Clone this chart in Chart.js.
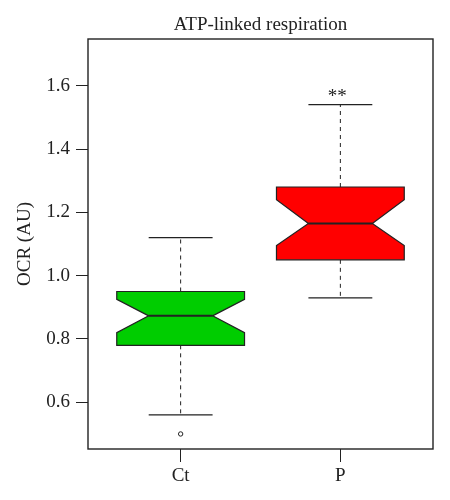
<!DOCTYPE html>
<html>
<head>
<meta charset="utf-8">
<title>ATP-linked respiration</title>
<script src="https://cdn.jsdelivr.net/npm/chart.js@4"></script>
<style>
  html, body { margin: 0; padding: 0; background: #fff; }
</style>
</head>
<body>
<canvas id="boxChart" width="450" height="500"></canvas>
<script>
// Box plot data
const groups = ['Ct', 'P'];
const whiskerLow = [0.56, 0.93];
const q1 = [0.78, 1.05];
const notchLow = [0.82, 1.095];
const median = [0.873, 1.165];
const notchHigh = [0.925, 1.24];
const q3 = [0.95, 1.28];
const whiskerHigh = [1.12, 1.54];
const outliers = [[0.50], []];
const significance = ['', '**'];
const yTicks = [0.6, 0.8, 1.0, 1.2, 1.4, 1.6];

// Styles
const boxColors = ['#00CD00', '#FF0000'];
const ink = '#222222';
const serif = 'Liberation Serif, Times New Roman, serif';
const fontSize = 19;

const outlierPoints = [];
outliers.forEach(function(list, i) {
    list.forEach(function(v) { outlierPoints.push({ x: i + 1, y: v }); });
});

/**
 * Draws notched boxes, whiskers, the frame and significance marks
 */
const boxPlotPlugin = {
    id: 'boxPlot',
    beforeDatasetsDraw: function(chart) {
        const ctx = chart.ctx;
        const xs = chart.scales.x;
        const ys = chart.scales.y;
        ctx.save();
        groups.forEach(function(g, i) {
            const cx = xs.getPixelForValue(i + 1);
            const hw = xs.getPixelForValue(i + 1.4) - cx;
            const nw = hw / 2;
            const L = cx - hw, R = cx + hw;
            const yQ1 = ys.getPixelForValue(q1[i]);
            const yQ3 = ys.getPixelForValue(q3[i]);
            const yMed = ys.getPixelForValue(median[i]);
            const yNL = ys.getPixelForValue(notchLow[i]);
            const yNH = ys.getPixelForValue(notchHigh[i]);
            const yWL = ys.getPixelForValue(whiskerLow[i]);
            const yWH = ys.getPixelForValue(whiskerHigh[i]);

            // whiskers (dashed)
            ctx.strokeStyle = ink;
            ctx.lineWidth = 1;
            ctx.setLineDash([4, 4]);
            ctx.beginPath();
            ctx.moveTo(cx, yQ3); ctx.lineTo(cx, yWH);
            ctx.moveTo(cx, yQ1); ctx.lineTo(cx, yWL);
            ctx.stroke();
            ctx.setLineDash([]);

            // staples
            ctx.lineWidth = 1.2;
            ctx.beginPath();
            ctx.moveTo(cx - nw, yWH); ctx.lineTo(cx + nw, yWH);
            ctx.moveTo(cx - nw, yWL); ctx.lineTo(cx + nw, yWL);
            ctx.stroke();

            // notched box
            ctx.beginPath();
            ctx.moveTo(L, yQ3);
            ctx.lineTo(R, yQ3);
            ctx.lineTo(R, yNH);
            ctx.lineTo(cx + nw, yMed);
            ctx.lineTo(R, yNL);
            ctx.lineTo(R, yQ1);
            ctx.lineTo(L, yQ1);
            ctx.lineTo(L, yNL);
            ctx.lineTo(cx - nw, yMed);
            ctx.lineTo(L, yNH);
            ctx.closePath();
            ctx.fillStyle = boxColors[i];
            ctx.fill();
            ctx.lineWidth = 1.2;
            ctx.stroke();

            // median
            ctx.lineWidth = 2;
            ctx.beginPath();
            ctx.moveTo(cx - nw, yMed); ctx.lineTo(cx + nw, yMed);
            ctx.stroke();

            // significance mark
            if (significance[i]) {
                ctx.fillStyle = ink;
                ctx.font = fontSize + 'px ' + serif;
                ctx.textAlign = 'center';
                ctx.textBaseline = 'alphabetic';
                ctx.fillText(significance[i], cx - 3, yWH - 3);
            }
        });
        ctx.restore();
    },
    afterDraw: function(chart) {
        const a = chart.chartArea;
        const ctx = chart.ctx;
        ctx.save();
        ctx.strokeStyle = ink;
        ctx.lineWidth = 1.4;
        ctx.strokeRect(a.left, a.top, a.right - a.left, a.bottom - a.top);
        ctx.restore();
    }
};

new Chart(document.getElementById('boxChart'), {
    type: 'scatter',
    data: {
        datasets: [{
            label: 'Outliers',
            data: outlierPoints,
            pointStyle: 'circle',
            pointRadius: 2.2,
            pointBorderWidth: 1,
            pointBorderColor: ink,
            pointBackgroundColor: '#ffffff'
        }]
    },
    options: {
        responsive: false,
        animation: false,
        layout: { padding: { top: 0, right: 17, bottom: 0, left: 0 } },
        plugins: {
            legend: { display: false },
            tooltip: { enabled: false },
            title: {
                display: true,
                text: 'ATP-linked respiration',
                fullSize: false,
                color: ink,
                font: { family: serif, size: fontSize, weight: 'normal' },
                padding: { top: 14, bottom: 2.2 }
            }
        },
        scales: {
            x: {
                type: 'linear',
                min: 0.42,
                max: 2.58,
                afterBuildTicks: function(s) {
                    s.ticks = groups.map(function(g, i) { return { value: i + 1 }; });
                },
                afterFit: function(s) { s.height = 51; },
                grid: { drawOnChartArea: false, tickLength: 13, color: ink },
                border: { display: false },
                ticks: {
                    padding: 3,
                    color: ink,
                    maxRotation: 0,
                    autoSkip: false,
                    font: { family: serif, size: fontSize },
                    callback: function(v) { return groups[Math.round(v) - 1]; }
                }
            },
            y: {
                type: 'linear',
                min: 0.4525,
                max: 1.7475,
                afterBuildTicks: function(s) {
                    s.ticks = yTicks.map(function(v) { return { value: v }; });
                },
                afterFit: function(s) { s.width = 88; },
                grid: { drawOnChartArea: false, tickLength: 12, color: ink },
                border: { display: false },
                ticks: {
                    padding: 6,
                    color: ink,
                    font: { family: serif, size: fontSize },
                    callback: function(v) { return v.toFixed(1); }
                },
                title: {
                    display: true,
                    text: 'OCR (AU)',
                    color: ink,
                    font: { family: serif, size: fontSize },
                    padding: { top: 14, bottom: 0 }
                }
            }
        }
    },
    plugins: [boxPlotPlugin]
});
</script>
</body>
</html>
